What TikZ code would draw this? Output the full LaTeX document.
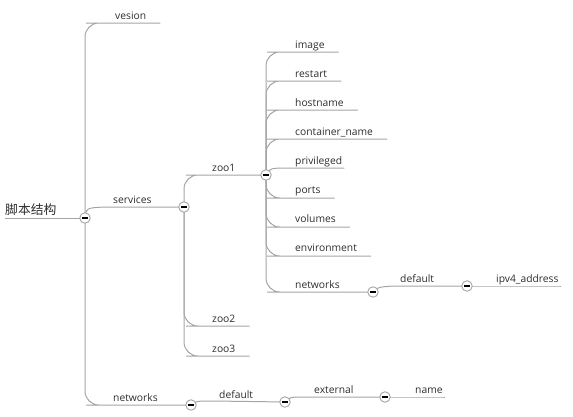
\documentclass[tikz,border=0pt]{standalone}
\usepackage{fontspec}
\setmainfont{Open Sans}
\newfontfamily\cjk{Noto Sans CJK SC}
\definecolor{linegray}{RGB}{165,165,165}
\definecolor{textgray}{RGB}{45,45,45}
\pgfdeclarelayer{bg}
\pgfsetlayers{bg,main}
\begin{document}
\begin{tikzpicture}[x=1pt,y=-1pt,
  conn/.style={draw=linegray, line width=1pt},
  curved/.style={conn, rounded corners=14pt},
  lbl/.style={anchor=base west, inner sep=0pt, text=textgray, font=\fontsize{10.3}{12}\selectfont},
  collapse/.style={circle, draw=linegray, line width=0.9pt, fill=white, minimum size=10.5pt, inner sep=0pt,
    path picture={\draw[black, line width=1.1pt] ([xshift=-2.6pt]path picture bounding box.center) -- ([xshift=2.6pt]path picture bounding box.center);}}
]
\useasboundingbox (0,0) rectangle (573,416);

% ---------- collapse circles ----------
\node[collapse] (R)  at (85,218) {};
\node[collapse] (S)  at (184,207) {};
\node[collapse] (N)  at (191,405) {};
\node[collapse] (Z)  at (266,175) {};
\node[collapse] (N2) at (373,292) {};
\node[collapse] (D)  at (467,286) {};
\node[collapse] (D2) at (285,402) {};
\node[collapse] (E)  at (385,397) {};

% ---------- labels ----------
\node[lbl, font=\cjk\fontsize{12.8}{14}\selectfont] (root) at (5,214) {脚本结构};
\node[lbl] (vesion)   at (115,19)  {vesion};
\node[lbl] (services) at (113,203) {services};
\node[lbl] (networks) at (113,401) {networks};
\node[lbl] (zoo1) at (212,171) {zoo1};
\node[lbl] (zoo2) at (212,322) {zoo2};
\node[lbl] (zoo3) at (212,352) {zoo3};
\node[lbl] (image)    at (295,48)  {image};
\node[lbl] (restart)  at (295,77)  {restart};
\node[lbl] (hostname) at (295,106) {hostname};
\node[lbl] (cname)    at (295,135) {container\_name};
\node[lbl] (priv)     at (295,164) {privileged};
\node[lbl] (ports)    at (295,193) {ports};
\node[lbl] (volumes)  at (295,222) {volumes};
\node[lbl] (env)      at (295,251) {environment};
\node[lbl] (znet)     at (295,288) {networks};
\node[lbl] (zdef)     at (400,282) {default};
\node[lbl] (ipv4)     at (496,282) {ipv4\_address};
\node[lbl] (ndef)     at (219,398) {default};
\node[lbl] (ext)      at (314,393) {external};
\node[lbl] (name)     at (415,393) {name};

% ---------- underline start points ----------
\coordinate (rootS) at (5,218);
\coordinate (vS) at (100,23);
\coordinate (sS) at (104,207);
\coordinate (nS) at (100,405);
\coordinate (z1S) at (200,175);
\coordinate (z2S) at (200,326);
\coordinate (z3S) at (200,356);
\coordinate (imageS) at (281,52);
\coordinate (restartS) at (281,81);
\coordinate (hostS) at (281,110);
\coordinate (cnameS) at (281,139);
\coordinate (privS) at (290,168);
\coordinate (portsS) at (281,198);
\coordinate (volS) at (281,227);
\coordinate (envS) at (281,256);
\coordinate (znetS) at (281,292);
\coordinate (zdefS) at (394,286);
\coordinate (ndefS) at (214,401);
\coordinate (extS) at (305,397);

% ---------- connectors ----------
\begin{pgfonlayer}{bg}
\draw[conn] (rootS) -- (R.center);
\draw[curved] (R.center) |- (vS) -- (vS -| vesion.east) -- ++(2,0);
\draw[conn] (R.center) .. controls (86,208) .. (sS) -- (S.center);
\draw[curved] (R.center) |- (nS) -- (N.center);

\draw[curved] (S.center) |- (z1S) -- (Z.center);
\draw[curved] (S.center) |- (z2S) -- (z2S -| zoo2.east) -- ++(3,0);
\draw[curved] (S.center) |- (z3S) -- (z3S -| zoo3.east) -- ++(3,0);

\draw[curved] (Z.center) |- (imageS) -- (imageS -| image.east) -- ++(2,0);
\draw[curved] (Z.center) |- (restartS) -- (restartS -| restart.east) -- ++(2,0);
\draw[curved] (Z.center) |- (hostS) -- (hostS -| hostname.east) -- ++(2,0);
\draw[curved] (Z.center) |- (cnameS) -- (cnameS -| cname.east) -- ++(2,0);
\draw[conn] (Z.center) .. controls (270,168) .. (privS) -- (privS -| priv.east) -- ++(2,0);
\draw[curved] (Z.center) |- (portsS) -- (portsS -| ports.east) -- ++(2,0);
\draw[curved] (Z.center) |- (volS) -- (volS -| volumes.east) -- ++(2,0);
\draw[curved] (Z.center) |- (envS) -- (envS -| env.east) -- ++(2,0);
\draw[curved] (Z.center) |- (znetS) -- (N2.center);

\draw[conn] (N2.center) .. controls (378,287) .. (zdefS) -- (D.center);
\draw[conn] (D.center) -- (D.center -| ipv4.east) -- ++(2,0);

\draw[conn] (N.center) .. controls (196,401) .. (ndefS) -- (D2.center);
\draw[conn] (D2.center) .. controls (290,397) .. (extS) -- (E.center);
\draw[conn] (E.center) -- (E.center -| name.east) -- ++(2,0);
\end{pgfonlayer}
\end{tikzpicture}
\end{document}
